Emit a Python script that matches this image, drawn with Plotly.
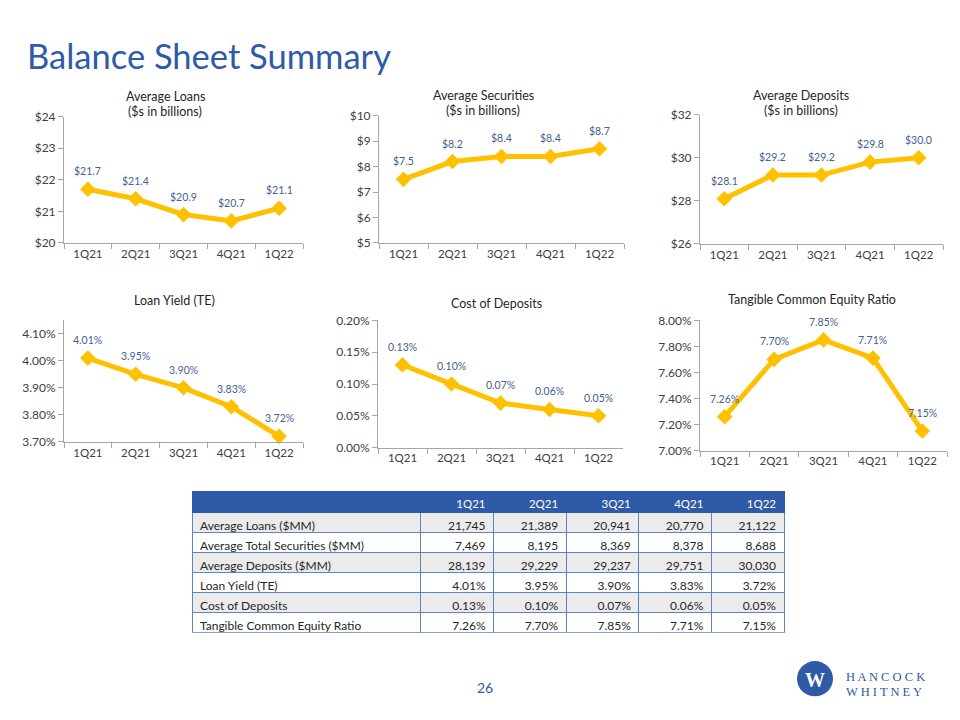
import plotly.graph_objects as go

# ---------------- data ----------------
quarters = ["1Q21", "2Q21", "3Q21", "4Q21", "1Q22"]

avg_loans_bn = [21.7, 21.4, 20.9, 20.7, 21.1]
avg_securities_bn = [7.5, 8.2, 8.4, 8.4, 8.7]
avg_deposits_bn = [28.1, 29.2, 29.2, 29.8, 30.0]
loan_yield_pct = [4.01, 3.95, 3.90, 3.83, 3.72]
cost_of_deposits_pct = [0.13, 0.10, 0.07, 0.06, 0.05]
tce_ratio_pct = [7.26, 7.70, 7.85, 7.71, 7.15]

table_row_labels = [
    "Average Loans ($MM)",
    "Average Total Securities ($MM)",
    "Average Deposits ($MM)",
    "Loan Yield (TE)",
    "Cost of Deposits",
    "Tangible Common Equity Ratio",
]
table_loans_mm = ["21,745", "21,389", "20,941", "20,770", "21,122"]
table_securities_mm = ["7,469", "8,195", "8,369", "8,378", "8,688"]
table_deposits_mm = ["28,139", "29,229", "29,237", "29,751", "30,030"]
table_loan_yield = ["4.01%", "3.95%", "3.90%", "3.83%", "3.72%"]
table_cost_deposits = ["0.13%", "0.10%", "0.07%", "0.06%", "0.05%"]
table_tce = ["7.26%", "7.70%", "7.85%", "7.71%", "7.15%"]

# ---------------- styling ----------------
W, H = 960, 720
FONT = "Lato"
BLUE = "#2E5AA8"
GOLD = "#FFC000"
LABEL_COLOR = "#44608F"
TICK_COLOR = "#404040"
AXIS_COLOR = "#A6A6A6"


def px_x(v):
    return v / W


def px_y(v):
    return 1 - v / H


charts = [
    dict(vals=avg_loans_bn, xr=(64, 303), yr=(111, 240), rng=[20, 24], dtick=1,
         pre="$", suf="", fmt="d", lab="${:.1f}",
         title=["Average Loans", "($s in billions)"], tx=165, ty=[90, 106]),
    dict(vals=avg_securities_bn, xr=(379, 624), yr=(110, 240), rng=[5, 10], dtick=1,
         pre="$", suf="", fmt="d", lab="${:.1f}",
         title=["Average Securities", "($s in billions)"], tx=483, ty=[89, 105]),
    dict(vals=avg_deposits_bn, xr=(700, 943), yr=(109, 241), rng=[26, 32], dtick=2,
         pre="$", suf="", fmt="d", lab="${:.1f}",
         title=["Average Deposits", "($s in billions)"], tx=801, ty=[89, 105]),
    dict(vals=loan_yield_pct, xr=(64, 303), yr=(319, 443), rng=[3.70, 4.15], dtick=0.10,
         pre="", suf="%", fmt=".2f", lab="{:.2f}%",
         title=["Loan Yield (TE)"], tx=174, ty=[299]),
    dict(vals=cost_of_deposits_pct, xr=(378, 623), yr=(319, 449), rng=[0, 0.20], dtick=0.05,
         pre="", suf="%", fmt=".2f", lab="{:.2f}%",
         title=["Cost of Deposits"], tx=496, ty=[302]),
    dict(vals=tce_ratio_pct, xr=(700, 947), yr=(319, 452), rng=[7.0, 8.0], dtick=0.20,
         pre="", suf="%", fmt=".2f", lab="{:.2f}%",
         title=["Tangible Common Equity Ratio"], tx=812, ty=[298]),
]

fig = go.Figure()
annotations = []
layout_axes = {}

for i, c in enumerate(charts, start=1):
    xa = "x" if i == 1 else f"x{i}"
    ya = "y" if i == 1 else f"y{i}"
    fig.add_trace(go.Scatter(
        x=quarters, y=c["vals"], xaxis=xa, yaxis=ya,
        mode="lines+markers",
        line=dict(color=GOLD, width=5),
        marker=dict(symbol="diamond", size=12, color=GOLD),
        showlegend=False, hoverinfo="skip", cliponaxis=False,
    ))
    layout_axes["xaxis" if i == 1 else f"xaxis{i}"] = dict(
        domain=[px_x(c["xr"][0]), px_x(c["xr"][1])],
        anchor=ya, type="category", range=[-0.5, 4.5],
        showline=True, linecolor=AXIS_COLOR, linewidth=1,
        ticks="outside", tickson="boundaries", ticklen=5, tickcolor=AXIS_COLOR,
        showgrid=False, zeroline=False, fixedrange=True,
        tickfont=dict(family=FONT, size=11.5, color=TICK_COLOR),
    )
    layout_axes["yaxis" if i == 1 else f"yaxis{i}"] = dict(
        domain=[px_y(c["yr"][1]), px_y(c["yr"][0])],
        anchor=xa, range=c["rng"], dtick=c["dtick"], tick0=c["rng"][0],
        tickprefix=c["pre"], ticksuffix=c["suf"], tickformat=c["fmt"],
        showline=True, linecolor=AXIS_COLOR, linewidth=1,
        ticks="outside", ticklen=5, tickcolor=AXIS_COLOR,
        showgrid=False, zeroline=False, fixedrange=True,
        tickfont=dict(family=FONT, size=12, color=TICK_COLOR),
    )
    for q, v in zip(quarters, c["vals"]):
        annotations.append(dict(
            x=q, y=v, xref=xa, yref=ya, text=c["lab"].format(v),
            showarrow=False, yshift=18,
            font=dict(family=FONT, size=10.5, color=LABEL_COLOR),
        ))
    for line, ty in zip(c["title"], c["ty"]):
        annotations.append(dict(
            x=px_x(c["tx"]), y=px_y(ty), xref="paper", yref="paper",
            text=line, showarrow=False, xanchor="center", yanchor="middle",
            font=dict(family=FONT, size=12.5, color="#262626"),
        ))

# ---------------- table ----------------
rows = [table_loans_mm, table_securities_mm, table_deposits_mm,
        table_loan_yield, table_cost_deposits, table_tce]
columns = [table_row_labels] + [[r[j] for r in rows] for j in range(len(quarters))]
row_fills = ["#EBEBEB" if k % 2 == 0 else "#FFFFFF" for k in range(len(table_row_labels))]

fig.add_trace(go.Table(
    domain=dict(x=[px_x(192), px_x(784)], y=[px_y(639), px_y(494)]),
    columnwidth=[227, 72, 72, 72, 72, 72],
    header=dict(
        values=[""] + quarters,
        fill_color=BLUE, line=dict(color=BLUE, width=1),
        align=["left"] + ["right"] * 5, height=21,
        font=dict(family=FONT, size=11.5, color="white"),
    ),
    cells=dict(
        values=columns,
        fill_color=[row_fills] * 6,
        line=dict(color="#5B84C4", width=1),
        align=["left"] + ["right"] * 5, height=20,
        font=dict(family=FONT, size=12, color="#262626"),
    ),
))

# ---------------- page decorations ----------------
annotations.append(dict(
    x=px_x(25), y=px_y(49), xref="paper", yref="paper",
    text="Balance Sheet Summary", showarrow=False,
    xanchor="left", yanchor="middle",
    font=dict(family=FONT, size=34.5, color=BLUE),
))
annotations.append(dict(
    x=px_x(485), y=px_y(694), xref="paper", yref="paper",
    text="26", showarrow=False, xanchor="center", yanchor="middle",
    font=dict(family=FONT, size=14, color=BLUE),
))
annotations.append(dict(
    x=px_x(815), y=px_y(686), xref="paper", yref="paper",
    text="<b>W</b>", showarrow=False, xanchor="center", yanchor="middle",
    font=dict(family="Liberation Serif", size=20, color="white"),
))
annotations.append(dict(
    x=px_x(844), y=px_y(683), xref="paper", yref="paper",
    text="H A N C O C K", showarrow=False, xanchor="left", yanchor="middle",
    font=dict(family="Liberation Serif", size=12.5, color=BLUE),
))
annotations.append(dict(
    x=px_x(844), y=px_y(699), xref="paper", yref="paper",
    text="W H I T N E Y", showarrow=False, xanchor="left", yanchor="middle",
    font=dict(family="Liberation Serif", size=12.5, color=BLUE),
))

shapes = [dict(
    type="circle", xref="paper", yref="paper",
    x0=px_x(797), x1=px_x(833), y0=px_y(703), y1=px_y(667),
    fillcolor=BLUE, line=dict(width=0),
)]

fig.update_layout(
    width=W, height=H,
    margin=dict(l=0, r=0, t=0, b=0),
    paper_bgcolor="white", plot_bgcolor="white",
    font=dict(family=FONT),
    annotations=annotations, shapes=shapes,
    showlegend=False,
    **layout_axes,
)

fig.write_html(
    "out.html",
    config={"displayModeBar": False},
    post_script="document.body.style.margin='0';document.body.style.overflow='hidden';",
)
